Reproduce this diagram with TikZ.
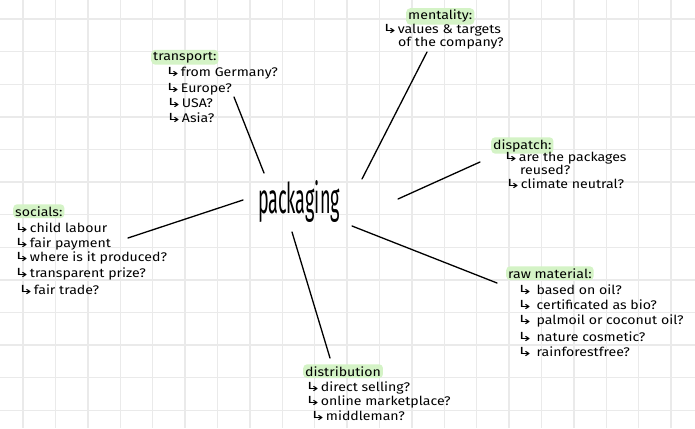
\documentclass[tikz,border=0pt]{standalone}
\usepackage{fontspec}
\usepackage{graphicx}
\setmainfont{Fira Sans}[FakeStretch=1.13]
\newfontfamily\dvfont{DejaVu Sans}
\newcommand\hk{\scalebox{1.5}[1]{\dvfont ↳}}
\definecolor{hl}{RGB}{212,243,198}
\definecolor{gridc}{RGB}{234,234,234}
\begin{document}
\begin{tikzpicture}[x=1pt,y=-1pt,
  head/.style={anchor=base west, fill=hl, rounded corners=4pt, inner sep=2pt, font=\fontsize{12.5}{14}\selectfont},
  itm/.style={anchor=base west, inner sep=0pt, font=\fontsize{12.5}{14}\selectfont},
  link/.style={line width=1.3pt, line cap=round},
  gridline/.style={gridc, line width=1.4pt}]
\useasboundingbox (0,0) rectangle (695,428);
\fill[white] (0,0) rectangle (695,428);
\foreach \i in {0,...,20} \draw[gridline] ({23+32.4*\i},0) -- ({23+32.4*\i},428);
\foreach \j in {0,...,12} \draw[gridline] (0,{19+32.6*\j}) -- (695,{19+32.6*\j});

% centre
\node[inner sep=0pt] (pk) at (299,202) {\resizebox*{82pt}{42pt}{\fontsize{20}{20}\selectfont packaging}};

% transport
\node[head] (tr) at (151,60) {transport:};
\node[itm] (tr1) at (165,76) {\hk from Germany?};
\node[itm] (tr2) at (165,92) {\hk Europe?};
\node[itm] (tr3) at (166,107) {\hk USA?};
\node[itm] (tr4) at (166,122) {\hk Asia?};

% mentality
\node[head] (me) at (406,20) {mentality:};
\node[itm] (me1) at (382,34) {\hk values \& targets};
\node[itm] (me2) at (398,47) {of the company?};

% dispatch
\node[head] (di) at (491,149) {dispatch:};
\node[itm] (di1) at (503,161) {\hk are the packages};
\node[itm] (di2) at (520,174) {reused?};
\node[itm] (di3) at (505,188) {\hk climate neutral?};

% socials
\node[head] (so) at (13,216) {socials:};
\node[itm] (so1) at (14,232) {\hk child labour};
\node[itm] (so2) at (14,247) {\hk fair payment};
\node[itm] (so3) at (14,261) {\hk where is it produced?};
\node[itm] (so4) at (14,277) {\hk transparent prize?};
\node[itm] (so5) at (18,294) {\hk fair trade?};

% raw material
\node[head] (rm) at (506,278) {raw material:};
\node[itm] (rm1) at (517,294) {\hk\ based on oil?};
\node[itm] (rm2) at (517,309) {\hk\ certificated as bio?};
\node[itm] (rm3) at (517,324) {\hk\ palmoil or coconut oil?};
\node[itm] (rm4) at (517,341) {\hk\ nature cosmetic?};
\node[itm] (rm5) at (517,356) {\hk\ rainforestfree?};

% distribution
\node[head] (ds) at (303,376) {distribution};
\node[itm] (ds1) at (305,391) {\hk direct selling?};
\node[itm] (ds2) at (305,405) {\hk online marketplace?};
\node[itm] (ds3) at (310,420) {\hk middleman?};

% connector ends
\coordinate (cTr) at (264,173);
\coordinate (eTr) at (234,97);
\coordinate (cMe) at (362,179);
\coordinate (eMe) at (427,52);
\coordinate (cDi) at (398,199);
\coordinate (eDi) at (480,162);
\coordinate (cSo) at (243,200);
\coordinate (eSo) at (128,238);
\coordinate (cRm) at (352,226);
\coordinate (eRm) at (497,283);
\coordinate (cDs) at (292,232);
\coordinate (eDs) at (330,358);

\draw[link] (cTr) -- (eTr);
\draw[link] (cMe) -- (eMe);
\draw[link] (cDi) -- (eDi);
\draw[link] (cSo) -- (eSo);
\draw[link] (cRm) -- (eRm);
\draw[link] (cDs) -- (eDs);
\end{tikzpicture}
\end{document}
